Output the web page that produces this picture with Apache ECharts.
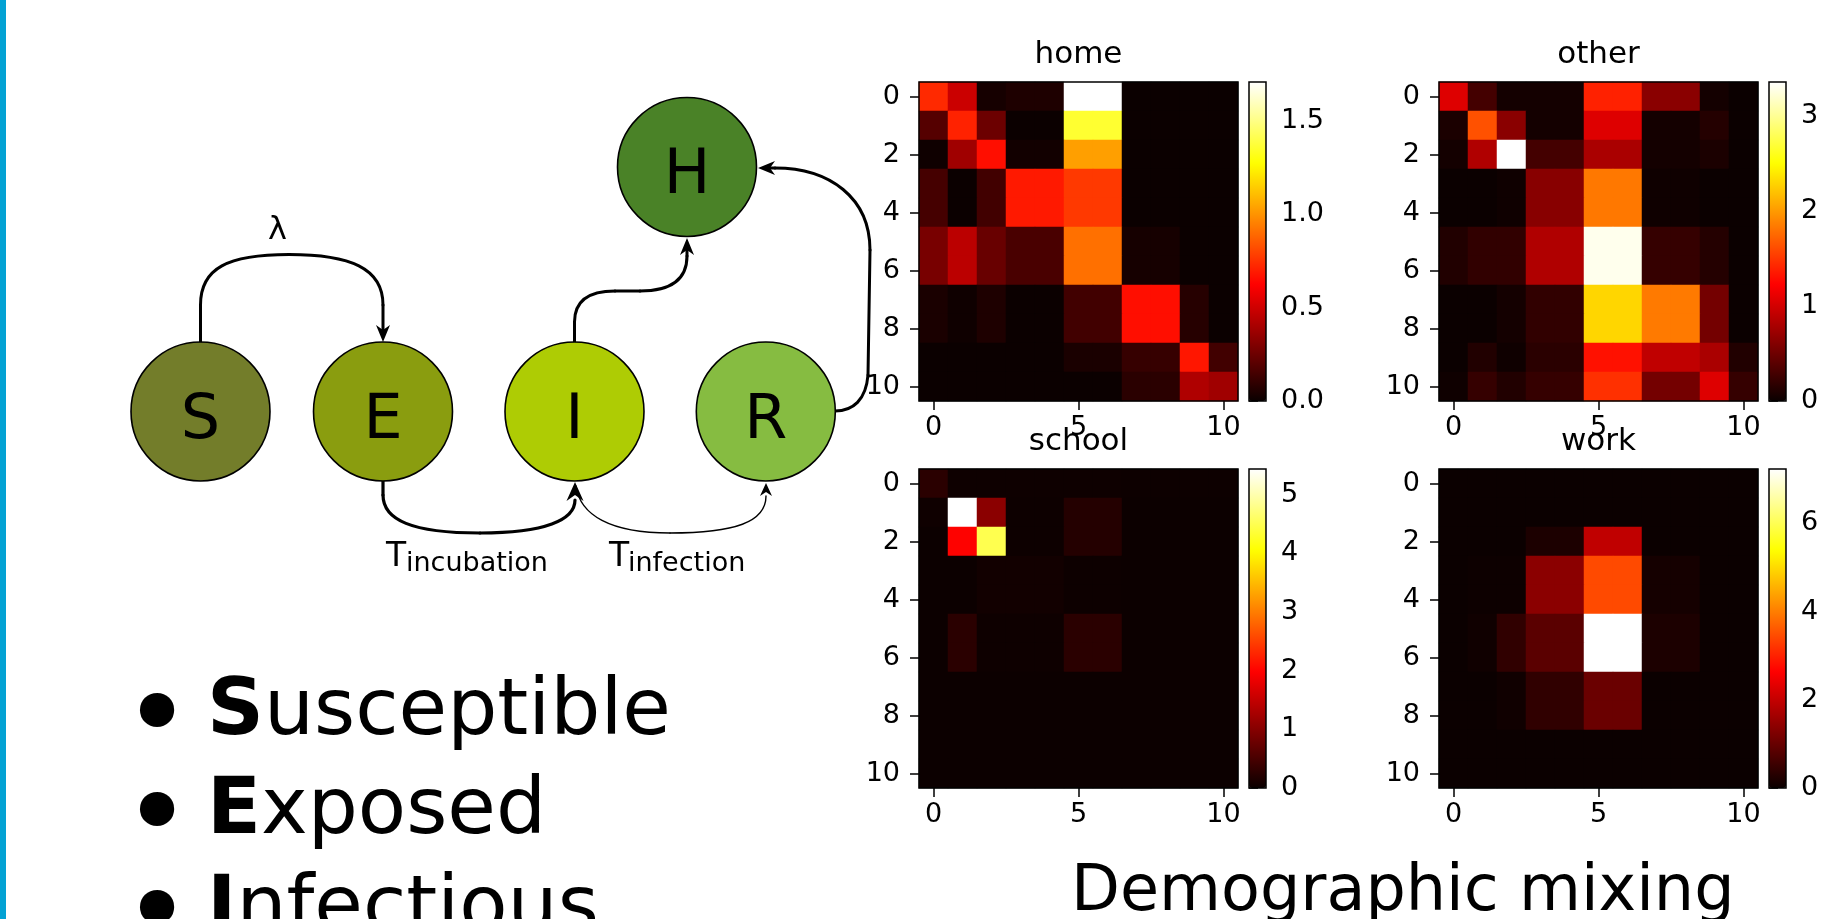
<!DOCTYPE html>
<html>
<head>
<meta charset="utf-8">
<script src="https://cdn.jsdelivr.net/npm/echarts@6/dist/echarts.min.js"></script>
<style>
html,body{margin:0;padding:0;background:#ffffff;}
#chart{width:1839px;height:919px;}
</style>
</head>
<body>
<div id="chart"></div>
<script>
// ---------------- DATA ----------------
const ageTicks = ['0','1','2','3','4','5','6','7','8','9','10'];
const panelTitles = ['home', 'other', 'school', 'work'];

// contact matrices (rows = y index 0..10 from top, columns = x index 0..10)
const home = [
  [0.73, 0.49, 0.03, 0.05, 0.05, 1.71, 1.71, 0.00, 0.00, 0.00, 0.00],
  [0.19, 0.71, 0.25, 0.00, 0.00, 1.36, 1.36, 0.00, 0.00, 0.00, 0.00],
  [0.01, 0.38, 0.66, 0.02, 0.02, 1.03, 1.03, 0.00, 0.00, 0.00, 0.00],
  [0.15, 0.00, 0.14, 0.69, 0.69, 0.77, 0.77, 0.00, 0.00, 0.00, 0.00],
  [0.15, 0.00, 0.14, 0.69, 0.69, 0.77, 0.77, 0.00, 0.00, 0.00, 0.00],
  [0.28, 0.45, 0.24, 0.16, 0.16, 0.91, 0.91, 0.03, 0.03, 0.00, 0.00],
  [0.28, 0.45, 0.24, 0.16, 0.16, 0.91, 0.91, 0.03, 0.03, 0.00, 0.00],
  [0.04, 0.01, 0.05, 0.00, 0.00, 0.14, 0.14, 0.66, 0.66, 0.07, 0.00],
  [0.04, 0.01, 0.05, 0.00, 0.00, 0.14, 0.14, 0.66, 0.66, 0.07, 0.00],
  [0.00, 0.00, 0.00, 0.00, 0.00, 0.04, 0.04, 0.11, 0.11, 0.68, 0.14],
  [0.00, 0.00, 0.00, 0.00, 0.00, 0.00, 0.00, 0.08, 0.08, 0.42, 0.38]
];
const other = [
  [1.06, 0.29, 0.05, 0.05, 0.05, 1.39, 1.39, 0.64, 0.64, 0.05, 0.00],
  [0.08, 1.63, 0.64, 0.05, 0.05, 1.06, 1.06, 0.05, 0.05, 0.13, 0.00],
  [0.05, 0.83, 3.36, 0.29, 0.29, 0.80, 0.80, 0.05, 0.05, 0.08, 0.00],
  [0.00, 0.00, 0.02, 0.63, 0.63, 1.83, 1.83, 0.02, 0.02, 0.00, 0.00],
  [0.00, 0.00, 0.02, 0.63, 0.63, 1.83, 1.83, 0.02, 0.02, 0.00, 0.00],
  [0.11, 0.19, 0.19, 0.83, 0.83, 3.30, 3.30, 0.21, 0.21, 0.13, 0.00],
  [0.11, 0.19, 0.19, 0.83, 0.83, 3.30, 3.30, 0.21, 0.21, 0.13, 0.00],
  [0.00, 0.00, 0.05, 0.19, 0.19, 2.30, 2.30, 1.84, 1.84, 0.53, 0.00],
  [0.00, 0.00, 0.05, 0.19, 0.19, 2.30, 2.30, 1.84, 1.84, 0.53, 0.00],
  [0.00, 0.11, 0.02, 0.16, 0.16, 1.31, 1.31, 0.91, 0.91, 0.80, 0.11],
  [0.02, 0.21, 0.11, 0.21, 0.21, 1.47, 1.47, 0.53, 0.53, 1.06, 0.21]
];
const school = [
  [0.26, 0.03, 0.03, 0.03, 0.03, 0.03, 0.03, 0.02, 0.02, 0.02, 0.02],
  [0.04, 5.44, 1.04, 0.02, 0.02, 0.21, 0.21, 0.01, 0.01, 0.01, 0.01],
  [0.01, 1.99, 4.49, 0.02, 0.02, 0.21, 0.21, 0.01, 0.01, 0.01, 0.01],
  [0.01, 0.01, 0.06, 0.06, 0.06, 0.02, 0.02, 0.01, 0.01, 0.01, 0.01],
  [0.01, 0.01, 0.06, 0.06, 0.06, 0.02, 0.02, 0.01, 0.01, 0.01, 0.01],
  [0.01, 0.26, 0.03, 0.03, 0.03, 0.26, 0.26, 0.01, 0.01, 0.01, 0.01],
  [0.01, 0.26, 0.03, 0.03, 0.03, 0.26, 0.26, 0.01, 0.01, 0.01, 0.01],
  [0.01, 0.01, 0.01, 0.01, 0.01, 0.01, 0.01, 0.01, 0.01, 0.01, 0.01],
  [0.01, 0.01, 0.01, 0.01, 0.01, 0.01, 0.01, 0.01, 0.01, 0.01, 0.01],
  [0.01, 0.01, 0.01, 0.01, 0.01, 0.01, 0.01, 0.01, 0.01, 0.01, 0.01],
  [0.01, 0.01, 0.01, 0.01, 0.01, 0.01, 0.01, 0.01, 0.01, 0.01, 0.01]
];
const work = [
  [0.00, 0.00, 0.00, 0.00, 0.00, 0.00, 0.00, 0.00, 0.00, 0.00, 0.00],
  [0.00, 0.00, 0.00, 0.00, 0.00, 0.00, 0.00, 0.00, 0.00, 0.00, 0.00],
  [0.00, 0.00, 0.00, 0.19, 0.19, 1.96, 1.96, 0.00, 0.00, 0.00, 0.00],
  [0.00, 0.02, 0.02, 1.38, 1.38, 3.44, 3.44, 0.11, 0.11, 0.00, 0.00],
  [0.00, 0.02, 0.02, 1.38, 1.38, 3.44, 3.44, 0.11, 0.11, 0.00, 0.00],
  [0.00, 0.06, 0.40, 0.86, 0.86, 7.23, 7.23, 0.19, 0.19, 0.00, 0.00],
  [0.00, 0.06, 0.40, 0.86, 0.86, 7.23, 7.23, 0.19, 0.19, 0.00, 0.00],
  [0.00, 0.00, 0.06, 0.40, 0.40, 1.03, 1.03, 0.00, 0.00, 0.00, 0.00],
  [0.00, 0.00, 0.06, 0.40, 0.40, 1.03, 1.03, 0.00, 0.00, 0.00, 0.00],
  [0.00, 0.00, 0.00, 0.00, 0.00, 0.00, 0.00, 0.00, 0.00, 0.00, 0.00],
  [0.00, 0.00, 0.00, 0.00, 0.00, 0.00, 0.00, 0.00, 0.00, 0.00, 0.00]
];
// colorbar tick labels
const homeTicks = [0, 0.5, 1.0, 1.5];
const otherTicks = [0, 1, 2, 3];
const schoolTicks = [0, 1, 2, 3, 4, 5];
const workTicks = [0, 2, 4, 6];

// SEIR diagram text
const nodeLetters = ['S', 'E', 'I', 'R', 'H'];
const incubationLabel = ['T', 'incubation'];
const infectionLabel = ['T', 'infection'];
const rateLabel = 'λ';
const bulletWords = [['S', 'usceptible'], ['E', 'xposed'], ['I', 'nfectious']];
const footerText = 'Demographic mixing';

// ---------------- LAYOUT / STYLE ----------------
const matrices = [home, other, school, work];
const cbTicks = [homeTicks, otherTicks, schoolTicks, workTicks];
const cbDecimals = [1, 0, 0, 0];
const panelPos = [[919, 82], [1439, 82], [919, 469], [1439, 469]];
const PSIZE = 319, CBGAP = 330, CBW = 17;
const FONT = 'DejaVu Sans';
const nodeColors = ['#737d2a', '#8a9d0f', '#aecc04', '#86bc41', '#4a8227'];
const nodeCenters = [[200.5, 411.5], [383, 411.5], [574.5, 411.5], [765.8, 411.5], [687, 167]];
const NODE_R = 69.5;

// matplotlib "hot" colormap samples
function hot(t) {
  const r = Math.min(1, 0.0416 + t / 0.365079 * (1 - 0.0416));
  const g = Math.min(1, Math.max(0, (t - 0.365079) / (0.746032 - 0.365079)));
  const b = Math.min(1, Math.max(0, (t - 0.746032) / (1 - 0.746032)));
  return 'rgb(' + Math.round(r * 255) + ',' + Math.round(g * 255) + ',' + Math.round(b * 255) + ')';
}
const hotStops = [];
for (let i = 0; i <= 100; i++) hotStops.push(hot(i / 100));

// ---------------- BUILD OPTION ----------------
const grids = [], xAxes = [], yAxes = [], series = [], visualMaps = [], titles = [];
const axisLine = { color: '#000', width: 1.5 };

matrices.forEach((m, i) => {
  const [L, T] = panelPos[i];
  const vmax = Math.max(...m.map(r => Math.max(...r)));
  const data = [];
  m.forEach((row, r) => row.forEach((v, c) => data.push([c, r, v])));

  grids.push({ left: L, top: T, width: PSIZE, height: PSIZE, show: true, borderColor: '#000', borderWidth: 1.5,
               backgroundColor: 'transparent', z: 5, containLabel: false, outerBoundsMode: 'none' });
  xAxes.push({ gridIndex: i, type: 'category', data: ageTicks, position: 'bottom',
    axisLine: { show: false }, splitLine: { show: false }, splitArea: { show: false },
    axisTick: { show: true, alignWithLabel: true, interval: 4, length: 9, lineStyle: axisLine },
    axisLabel: { interval: 4, fontSize: 27, color: '#000', margin: 13, fontFamily: FONT } });
  yAxes.push({ gridIndex: i, type: 'category', data: ageTicks, inverse: true,
    axisLine: { show: false }, splitLine: { show: false }, splitArea: { show: false },
    axisTick: { show: true, alignWithLabel: true, interval: 1, length: 9, lineStyle: axisLine },
    axisLabel: { interval: 1, fontSize: 27, color: '#000', margin: 19, fontFamily: FONT } });
  series.push({ type: 'heatmap', xAxisIndex: i, yAxisIndex: i, data: data, progressive: 0,
    emphasis: { disabled: true }, itemStyle: { borderWidth: 0 } });
  visualMaps.push({ type: 'continuous', seriesIndex: i, dimension: 2, min: 0, max: vmax,
    inRange: { color: hotStops }, orient: 'vertical', left: L + CBGAP, top: T,
    itemWidth: CBW, itemHeight: PSIZE, padding: 0, calculable: false, hoverLink: false,
    realtime: false, text: null, showLabel: false, z: 4 });
  titles.push({ text: panelTitles[i], left: L + PSIZE / 2, top: T - 43, textAlign: 'center',
    textVerticalAlign: 'top', padding: 0,
    textStyle: { fontSize: 31, fontWeight: 'normal', color: '#000', fontFamily: FONT } });
});

matrices.forEach((m, i) => {
  const [L, T] = panelPos[i];
  const vmax = Math.max(...m.map(r => Math.max(...r)));
  const gi = 4 + i;
  grids.push({ left: L + CBGAP, top: T, width: CBW, height: PSIZE, show: true, borderColor: '#000',
               borderWidth: 1.5, backgroundColor: 'transparent', z: 6, containLabel: false, outerBoundsMode: 'none' });
  xAxes.push({ gridIndex: gi, type: 'value', show: false, min: 0, max: 1 });
  yAxes.push({ gridIndex: gi, type: 'value', min: 0, max: vmax, position: 'right',
    axisLine: { show: false }, splitLine: { show: false },
    axisTick: { show: true, length: 9, lineStyle: axisLine, customValues: cbTicks[i] },
    axisLabel: { customValues: cbTicks[i], fontSize: 27, color: '#000', margin: 15, fontFamily: FONT,
      formatter: v => Number(v).toFixed(cbDecimals[i]) } });
});

// ---------------- SEIR diagram (graphic) ----------------
const G = [];
G.push({ type: 'rect', shape: { x: 0, y: 0, width: 6, height: 919 }, style: { fill: '#03a2d4' }, silent: true });

function line(x1, y1, x2, y2, w) {
  G.push({ type: 'line', shape: { x1, y1, x2, y2 }, style: { stroke: '#000', lineWidth: w, lineCap: 'round' }, silent: true });
}
function curve(x1, y1, c1x, c1y, c2x, c2y, x2, y2, w) {
  G.push({ type: 'bezierCurve', shape: { x1, y1, cpx1: c1x, cpy1: c1y, cpx2: c2x, cpy2: c2y, x2, y2 },
           style: { stroke: '#000', lineWidth: w, fill: null, lineCap: 'round' }, silent: true });
}
function arrow(tx, ty, dx, dy, len, half, notch) {
  const nx = -dy, ny = dx;
  const bx = tx - len * dx, by = ty - len * dy;
  G.push({ type: 'polygon', shape: { points: [
      [tx, ty], [bx + half * nx, by + half * ny], [tx - (len - notch) * dx, ty - (len - notch) * dy],
      [bx - half * nx, by - half * ny]] }, style: { fill: '#000' }, silent: true });
}
// S -> E
line(200.5, 342, 200.5, 305, 3);
curve(200.5, 305, 200.5, 268, 228, 254.5, 289, 254.5, 3);
curve(289, 254.5, 350, 254.5, 383, 268, 383, 305, 3);
line(383, 305, 383, 330, 3);
arrow(383, 342, 0, 1, 17, 7, 5);
// I -> H
line(574.5, 342, 574.5, 322, 3);
curve(574.5, 322, 574.5, 300, 590, 291, 615, 291, 3);
line(615, 291, 640, 291, 3);
curve(640, 291, 670, 291, 687, 280, 687, 256, 3);
line(687, 256, 687, 250, 3);
arrow(687, 238, 0, -1, 17, 7, 5);
// R -> H
curve(835, 411, 853, 411, 866, 400, 868, 375, 3);
line(868, 375, 870, 250, 3);
curve(870, 250, 870, 198, 830, 168, 775, 168, 3);
line(775, 168, 770, 168, 3);
arrow(758, 168, -1, 0, 17, 7, 5);
// E -> I
line(383, 481, 383, 495, 3.2);
curve(383, 495, 383, 520, 412, 533, 480, 533, 3.2);
curve(480, 533, 545, 533, 575, 520, 575, 500, 3.2);
arrow(575, 482, 0, -1, 19, 8.5, 6);
// I -> R (thin)
curve(576, 486, 580, 515, 610, 533, 670, 533, 1.4);
curve(670, 533, 735, 533, 766, 522, 766, 496, 1.4);
arrow(766, 483, 0, -1, 13, 6, 4);

// nodes
nodeLetters.forEach((ch, i) => {
  const [cx, cy] = nodeCenters[i];
  G.push({ type: 'circle', shape: { cx, cy, r: NODE_R }, style: { fill: nodeColors[i], stroke: '#000', lineWidth: 1.6 }, silent: true });
  G.push({ type: 'text', style: { text: ch, x: cx, y: cy + 10, align: 'center', verticalAlign: 'middle',
           fontSize: 62, fontFamily: FONT, fill: '#000' }, silent: true });
});
// rate labels
G.push({ type: 'text', style: { text: rateLabel, x: 277.5, y: 231, align: 'center', verticalAlign: 'middle', fontSize: 32, fontFamily: FONT, fill: '#000' }, silent: true });
[[incubationLabel, 386, 406], [infectionLabel, 609, 628]].forEach(([lab, xT, xs]) => {
  G.push({ type: 'text', style: { text: lab[0], x: xT, y: 557, align: 'left', verticalAlign: 'middle', fontSize: 33, fontFamily: FONT, fill: '#000' }, silent: true });
  G.push({ type: 'text', style: { text: lab[1], x: xs, y: 564, align: 'left', verticalAlign: 'middle', fontSize: 27, fontFamily: FONT, fill: '#000' }, silent: true });
});
// bullets
bulletWords.forEach((w, i) => {
  const yMid = [713.7, 812, 910][i];
  G.push({ type: 'text', style: { text: '•', x: 157, y: yMid + 10, align: 'center', verticalAlign: 'middle', fontSize: 118, fontFamily: FONT, fill: '#000' }, silent: true });
  G.push({ type: 'text', style: { text: '{b|' + w[0] + '}' + w[1], x: 207, y: yMid, align: 'left', verticalAlign: 'middle',
           fontSize: 79, fontFamily: FONT, fill: '#000',
           rich: { b: { fontSize: 79, fontFamily: FONT, fontWeight: 'bold', fill: '#000' } } }, silent: true });
});
// footer
G.push({ type: 'text', style: { text: footerText, x: 1071, y: 893, align: 'left', verticalAlign: 'middle', fontSize: 63.6, fontFamily: FONT, fill: '#000' }, silent: true });

const option = {
  backgroundColor: '#ffffff',
  animation: false,
  textStyle: { fontFamily: FONT },
  title: titles,
  grid: grids,
  xAxis: xAxes,
  yAxis: yAxes,
  visualMap: visualMaps,
  series: series,
  graphic: { elements: G }
};
const chart = echarts.init(document.getElementById('chart'), null, { renderer: 'canvas' });
chart.setOption(option);
</script>
</body>
</html>
